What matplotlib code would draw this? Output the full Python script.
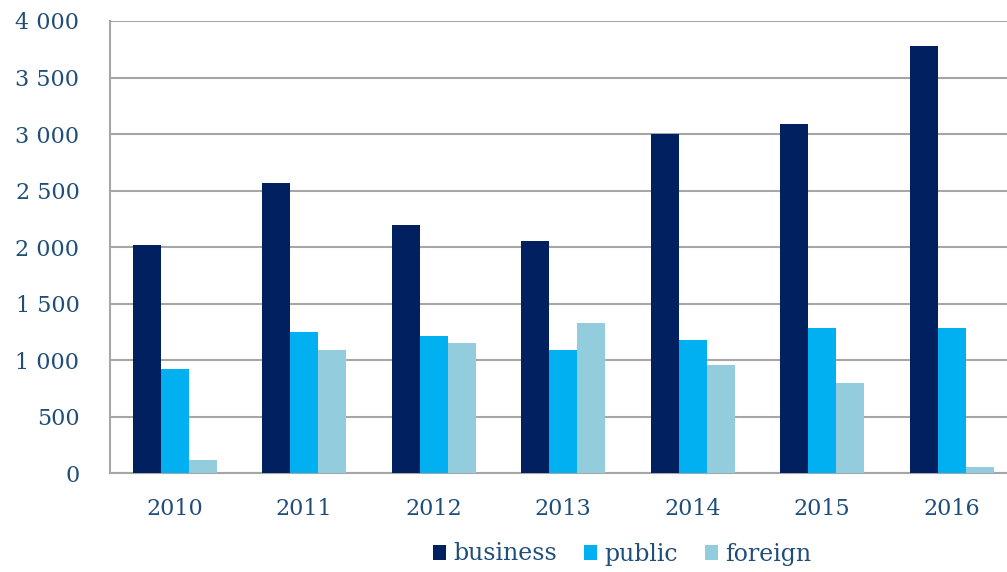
import matplotlib.pyplot as plt
import numpy as np
from matplotlib.ticker import FuncFormatter

years = ['2010', '2011', '2012', '2013', '2014', '2015', '2016']
business = [2020, 2565, 2200, 2055, 3000, 3085, 3780]
public = [920, 1250, 1215, 1090, 1180, 1285, 1285]
foreign = [115, 1090, 1150, 1330, 955, 795, 60]
series_names = ['business', 'public', 'foreign']

colors = ['#002060', '#00B0F0', '#93CDDD']
txt = '#1F4E79'
grid = '#A6A6A6'

plt.rcParams['font.family'] = ['DejaVu Serif']

fig = plt.figure(figsize=(10.07, 5.72), dpi=100)
ax = fig.add_axes([0.1092, 0.1725, 0.9002, 0.7908])

x = np.arange(len(years))
w = 0.216
for i, (vals, c, name) in enumerate(zip([business, public, foreign], colors, series_names)):
    ax.bar(x + (i - 1) * w, vals, width=w, color=c, label=name, zorder=3)

ax.set_xlim(-0.5, len(years) - 0.5)
ax.set_ylim(0, 4000)
ax.set_yticks(np.arange(0, 4001, 500))
ax.yaxis.set_major_formatter(FuncFormatter(lambda v, p: f'{int(v):,}'.replace(',', ' ')))
ax.set_xticks(x)
ax.set_xticklabels(years)

ax.grid(axis='y', color=grid, linewidth=1.5, zorder=0)
ax.tick_params(axis='y', length=0, pad=22, labelsize=16, labelcolor=txt)
ax.tick_params(axis='x', length=0, pad=18, labelsize=16, labelcolor=txt)

for s in ['top', 'right']:
    ax.spines[s].set_visible(False)
for s in ['left', 'bottom']:
    ax.spines[s].set_color(grid)
    ax.spines[s].set_linewidth(1.5)

fig.legend(loc='center', bbox_to_anchor=(622 / 1007, 1 - 554 / 572), ncol=3,
           frameon=False, fontsize=17, labelcolor=txt, handlelength=0.55,
           handleheight=0.62, handletextpad=0.3, columnspacing=1.15)

fig.savefig('out.png', dpi=100)
